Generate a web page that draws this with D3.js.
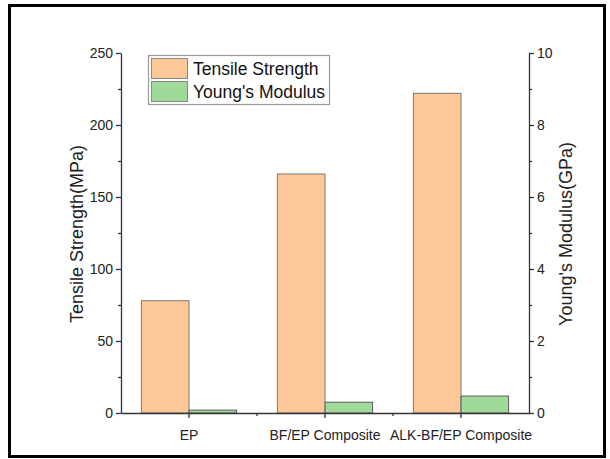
<!DOCTYPE html>
<html><head><meta charset="utf-8">
<script src="https://cdn.jsdelivr.net/npm/d3@7"></script>
<style>body{margin:0;background:#fff;} svg{display:block;}</style>
</head><body>
<script>
const categories = ["EP", "BF/EP Composite", "ALK-BF/EP Composite"];
const tensileStrength = [78, 166, 222];
const youngsModulus = [0.08, 0.3, 0.47];
const leftTicks = [0, 50, 100, 150, 200, 250];
const rightTicks = [0, 2, 4, 6, 8, 10];
const seriesNames = ["Tensile Strength", "Young's Modulus"];
const seriesColors = ["#fdc897", "#9fda9b"];

const W = 610, H = 459;
const svg = d3.select("body").append("svg").attr("width", W).attr("height", H);
svg.append("rect").attr("x", 9.5).attr("y", 5.5).attr("width", 595).attr("height", 451)
  .attr("fill", "none").attr("stroke", "#000").attr("stroke-width", 3);

const x0 = 121, x1 = 529, yTop = 53, yBot = 413;
const x = d3.scaleBand().domain(categories).range([x0, x1]);
const yL = d3.scaleLinear().domain([0, 250]).range([yBot, yTop]);
const yR = d3.scaleLinear().domain([0, 10]).range([yBot, yTop]);
const font = "Liberation Sans, Arial, sans-serif";
const axisColor = "#333";

const barW = x.bandwidth() * 0.35;
const g = svg.append("g");
categories.forEach((c, i) => {
  const cx = x(c) + x.bandwidth() / 2;
  g.append("rect").attr("x", cx - barW).attr("y", yL(tensileStrength[i]))
    .attr("width", barW).attr("height", yL(0) - yL(tensileStrength[i]))
    .attr("fill", seriesColors[0]).attr("stroke", "#7a7a7a").attr("stroke-width", 1);
  g.append("rect").attr("x", cx).attr("y", yR(youngsModulus[i]))
    .attr("width", barW).attr("height", yR(0) - yR(youngsModulus[i]))
    .attr("fill", seriesColors[1]).attr("stroke", "#5a5a5a").attr("stroke-width", 1);
});

function styleAxis(sel) {
  sel.selectAll("path").attr("stroke", axisColor).attr("stroke-width", 1.3);
  sel.selectAll("line").attr("stroke", axisColor).attr("stroke-width", 1.3);
  sel.selectAll("text").attr("fill", "#222").style("font-family", font).style("font-size", "14px");
}

// left axis
const aL = svg.append("g").attr("transform", `translate(${x0},0)`)
  .call(d3.axisLeft(yL).tickValues(leftTicks).tickSize(5).tickSizeOuter(0).tickPadding(3));
styleAxis(aL);
const mL = svg.append("g").attr("transform", `translate(${x0},0)`)
  .call(d3.axisLeft(yL).tickValues([25, 75, 125, 175, 225]).tickSize(3).tickFormat(""));
mL.select("path").remove(); styleAxis(mL);

// right axis
const aR = svg.append("g").attr("transform", `translate(${x1},0)`)
  .call(d3.axisRight(yR).tickValues(rightTicks).tickSize(5).tickSizeOuter(0).tickPadding(3));
styleAxis(aR);
const mR = svg.append("g").attr("transform", `translate(${x1},0)`)
  .call(d3.axisRight(yR).tickValues([1, 3, 5, 7, 9]).tickSize(3).tickFormat(""));
mR.select("path").remove(); styleAxis(mR);

// bottom axis
const aB = svg.append("g").attr("transform", `translate(0,${yBot})`)
  .call(d3.axisBottom(x).tickSize(5).tickSizeOuter(0).tickPadding(12));
styleAxis(aB);
const minorX = categories.slice(1).map(c => x(c));
aB.selectAll(".minor").data(minorX).enter().append("line")
  .attr("x1", d => d).attr("x2", d => d).attr("y1", 0).attr("y2", 3)
  .attr("stroke", axisColor).attr("stroke-width", 1.3);

// axis titles
svg.append("text").attr("transform", `translate(83,${(yTop + yBot) / 2 + 1}) rotate(-90)`)
  .attr("text-anchor", "middle").style("font-family", font).style("font-size", "18px").attr("fill", "#222")
  .text("Tensile Strength(MPa)");
svg.append("text").attr("transform", `translate(572,${(yTop + yBot) / 2 + 1}) rotate(-90)`)
  .attr("text-anchor", "middle").style("font-family", font).style("font-size", "18px").attr("fill", "#222")
  .text("Young's Modulus(GPa)");

// legend
const lg = svg.append("g");
lg.append("rect").attr("x", 148.5).attr("y", 55.5).attr("width", 181).attr("height", 49)
  .attr("fill", "#fff").attr("stroke", "#999").attr("stroke-width", 1.2);
seriesNames.forEach((n, i) => {
  lg.append("rect").attr("x", 151.5).attr("y", 58.5 + i * 23).attr("width", 36).attr("height", 20)
    .attr("fill", seriesColors[i]).attr("stroke", "#888").attr("stroke-width", 1);
  lg.append("text").attr("x", 193).attr("y", 75 + i * 23).style("font-family", font)
    .style("font-size", "17.5px").attr("fill", "#111").text(n);
});
</script>
</body></html>
